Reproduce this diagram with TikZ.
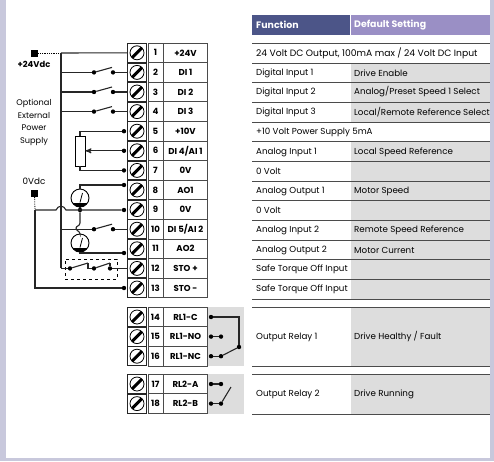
\documentclass[tikz,border=0pt]{standalone}
\usepackage{fontspec}
\setmainfont{Poppins}
\definecolor{lavish}{RGB}{200, 200, 220}
\definecolor{greyish}{RGB}{221, 221, 221}
\definecolor{headdark}{RGB}{76, 85, 136}
\definecolor{headlight}{RGB}{154, 143, 197}
\definecolor{rulegrey}{RGB}{75, 75, 75}
\usetikzlibrary{arrows}
\tikzset{
  termbox/.style = {draw=rulegrey, line width=0.9pt, fill=white, inner sep=0pt, font=\fontsize{8.6}{9}\bfseries},
  scr_box/.style = {termbox, draw=black!85, line width=1.2pt, minimum width=19pt, minimum height=19pt},
  num_box/.style = {termbox, minimum width=15pt, minimum height=19.6pt},
  lab_box/.style = {termbox, minimum width=44.5pt, minimum height=19.6pt},
  screw/.style = {circle, draw=black, line width=0.8pt, fill=white, minimum size=14pt, inner sep=0pt,
    path picture={\draw[line width=3pt, shift={(path picture bounding box.center)}] (-5.5pt,-5.5pt) -- (5.5pt,5.5pt);}},
  dot/.style = {circle, fill=black, minimum size=4.4pt, inner sep=0pt},
  wire/.style = {line width=1.1pt, black!85},
  meter/.style = {circle, draw=black, line width=0.9pt, fill=white, minimum size=18pt, inner sep=0pt,
    path picture={\fill[black, shift={(path picture bounding box.center)}] (-10pt,-4.5pt) rectangle (10pt,-10pt);
      \draw[black, line width=0.8pt, shift={(path picture bounding box.center)}] (0pt,-4.5pt) -- (2.5pt,5pt);}},
  txt/.style = {anchor=west, inner sep=0pt, font=\fontsize{8.7}{10}\selectfont},
  side/.style = {inner sep=0pt, font=\fontsize{8.2}{9}\selectfont},
  head/.style = {txt, white, font=\fontsize{9.4}{10}\bfseries},
  tabrule/.style = {line width=0.9pt, rulegrey},
  supply/.style = {fill=black, minimum size=7pt, inner sep=0pt},
}

\begin{document}
\begin{tikzpicture}[x=1pt, y=-1pt, >=stealth']
\useasboundingbox (0,0) rectangle (494,461);
\fill[lavish] (0,0) rectangle (6,461);
\fill[lavish] (490,0) rectangle (494,461);
\fill[lavish] (0,458) rectangle (494,461);

% grey panels
\fill[greyish] (208,307) rectangle (244,366);
\fill[greyish] (208,374) rectangle (244,414);
\fill[greyish] (351,63) rectangle (490,122);
\fill[greyish] (351,141) rectangle (490,299);
\fill[greyish] (351,307) rectangle (490,366);
\fill[greyish] (351,374) rectangle (490,414);

% table head
\fill[headdark] (252,15) rectangle (349.5,35);
\fill[headlight] (350.5,15) rectangle (490,35);
\node [head] (hfun) at (256,25) {Function};
\node [head] (hset) at (354,25) {Default Setting};

% table rows
\foreach \y in {43,63,82,102,122,141,161,181,200,220,240,259,279,299,307,366,374,414}
  \draw [tabrule] (252,\y) -- (490,\y);
\foreach \n/\y/\fun/\set in {1/53/{\fontsize{9.2}{10}\selectfont 24 Volt DC Output, 100mA max {/} 24 Volt DC Input}/{},
    2/73/{Digital Input 1}/{Drive Enable},
    3/92/{Digital Input 2}/{Analog{/}Preset Speed 1 Select},
    4/112/{Digital Input 3}/{Local{/}Remote Reference Select},
    5/132/{+10 Volt Power Supply 5mA}/{},
    6/152/{Analog Input 1}/{Local Speed Reference},
    7/171/{0 Volt}/{},
    8/191/{Analog Output 1}/{Motor Speed},
    9/210/{0 Volt}/{},
    10/230/{Analog Input 2}/{Remote Speed Reference},
    11/250/{Analog Output 2}/{Motor Current},
    12/269/{Safe Torque Off Input}/{},
    13/289/{Safe Torque Off Input}/{},
    14/337/{Output Relay 1}/{Drive Healthy {/} Fault},
    15/394/{Output Relay 2}/{Drive Running}}{
  \node [txt] (fun\n) at (256,\y) {\fun};
  \node [txt] (set\n) at (354,\y) {\set};
}

% terminals
\foreach \n/\y/\lab in {1/52.8/+24V, 2/72.4/DI 1, 3/92/DI 2, 4/111.6/DI 3, 5/131.2/+10V,
    6/150.8/{DI 4{/}AI 1}, 7/170.4/0V, 8/190/AO1, 9/209.6/0V, 10/229.2/{DI 5{/}AI 2},
    11/248.8/AO2, 12/268.4/STO +, 13/288/STO -,
    14/317/RL1-C, 15/336.6/RL1-NO, 16/356.2/RL1-NC, 17/384/RL2-A, 18/403.6/RL2-B}{
  \node [scr_box] (box\n) at (137,\y) {};
  \node [screw] (scr\n) at (137,\y) {};
  \node [num_box] (num\n) at (155.5,\y) {\n};
  \node [lab_box] (lab\n) at (185.5,\y) {\lab};
}

% supply marks
\node [supply] (pos) at (34.5,53) {};
\node [supply] (neg) at (34.5,193.5) {};
\node [side, font=\fontsize{8.4}{9}\bfseries] (poslab) at (34,64) {+24Vdc};
\node [side, font=\fontsize{8.8}{9}\selectfont] (neglab) at (34,181) {0Vdc};
\node [side, align=center, font=\fontsize{8.2}{12.4}\selectfont] (optlab) at (34,122.5) {Optional\\External\\Power\\Supply};
\coordinate (bus1) at (61,53);
\coordinate (gnd1) at (35,210);
\coordinate (gnd2) at (35,288);
\draw [densely dotted, line width=0.8pt] (pos) -- (bus1);
\draw [densely dotted, line width=0.8pt] (neg) -- (gnd1);
\draw [wire] (bus1) -- (box1.west);

% bus with digital inputs
\coordinate (bus2) at (61,72.4);
\coordinate (bus3) at (61,92);
\coordinate (bus4) at (61,111.6);
\coordinate (bus10) at (61,229.2);
\coordinate (bus12) at (61,268.4);
\draw [wire] (bus1) -- (bus12);
\foreach \n/\y in {2/72.4, 3/92, 4/111.6, 10/229.2}{
  \node [dot] (swa\n) at (94,\y) {};
  \node [dot] (swb\n) at (113,\y) {};
  \coordinate (bld\n) at (112,\y-5);
  \draw [wire] (bus\n) -- (swa\n);
  \draw [wire] (swa\n) -- (bld\n);
  \draw [wire] (swb\n) -- (box\n.west);
}

% pot
\node [draw=black, line width=0.9pt, fill=white, minimum width=10pt, minimum height=30pt, inner sep=0pt] (pot) at (80,151) {};
\node [dot] (dot5) at (124,131.2) {};
\node [dot] (dot6) at (124,150.8) {};
\node [dot] (dot7) at (124,170.4) {};
\draw [wire] (dot5) -| (pot.north);
\draw [wire] (dot7) -| (pot.south);
\draw [wire, ->] (dot6) -- (pot.east |- dot6);

% meters
\node [meter] (mtr1) at (80,198) {};
\node [meter] (mtr2) at (80,243) {};
\node [dot] (dot8) at (124,185) {};
\node [dot] (dot9) at (124,210) {};
\node [dot] (dot11) at (124,253) {};
\node [dot] (dot13) at (124,288) {};
\node [dot] (jct) at (80,210) {};
\draw [wire] (dot8) -| (mtr1.north);
\draw [wire] (mtr1) -- (jct);
\draw [wire] (gnd1) -- (56,210) .. controls (58,205) and (64,205) .. (66,210) -- (dot9);
\draw [wire] (jct) -- (80,223) .. controls (80,226) and (76,226) .. (76,228) .. controls (76,231) and (80,231) .. (80,234) -- (mtr2.north);
\draw [wire] (dot11) -| (mtr2.south);
\draw [wire] (gnd1) -- (gnd2) -- (dot13);

% safe torque off
\node [draw=black, dashed, line width=0.7pt, minimum width=52pt, minimum height=20pt, inner sep=0pt] (stobox) at (91,269) {};
\node [dot] (stoa) at (70,268.4) {};
\node [dot] (stob) at (94,268.4) {};
\node [dot] (stoc) at (110,268.4) {};
\draw [wire] (bus12) -- (stoa);
\draw [wire] (stoa) -- (88,263);
\draw [wire] (88,263) -- (88,268.4) -- (stob);
\draw [wire] (stob) -- (110,263);
\draw [wire] (110,263) -- (stoc);
\draw [wire] (stoc) -- (box12.west);

% relays
\node [dot] (rla) at (211,317) {};
\node [dot] (rlb) at (211,336.6) {};
\node [dot] (rlc) at (211,356.2) {};
\node [dot] (rld) at (221,336.6) {};
\node [dot] (rle) at (221,356.2) {};
\node [dot] (rlf) at (239,347) {};
\draw [wire] (rla) -| (rlf);
\draw [wire] (rlb) -- (rld);
\draw [wire] (rlc) -- (rle);
\draw [wire] (rle) -- (rlf);
\node [dot] (rma) at (211,384) {};
\node [dot] (rmb) at (211,403.6) {};
\node [dot] (rmc) at (221,384) {};
\node [dot] (rmd) at (221,403.6) {};
\coordinate (rme) at (231,387);
\draw [wire] (rma) -- (rmc);
\draw [wire] (rmb) -- (rmd);
\draw [wire] (rmd) -- (rme);
\end{tikzpicture}
\end{document}
